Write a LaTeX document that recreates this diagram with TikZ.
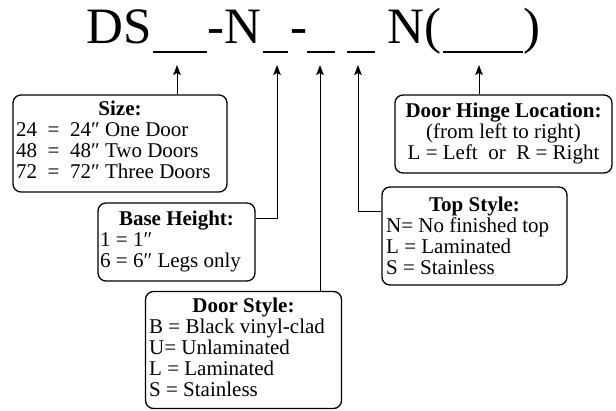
\documentclass[tikz,border=0pt]{standalone}
\usepackage{fontspec}
\setmainfont{Liberation Serif}
\usetikzlibrary{arrows.meta}
\tikzset{
  box/.style={draw, line width=1.3pt, rounded corners=8pt, inner sep=0pt},
  ttl/.style={font=\bfseries\fontsize{21}{21}\selectfont, anchor=base, inner sep=0pt},
  ln/.style={font=\fontsize{21}{21}\selectfont, anchor=base west, inner sep=0pt},
  lnc/.style={font=\fontsize{21}{21}\selectfont, anchor=base, inner sep=0pt},
  big/.style={font=\fontsize{51}{55}\selectfont, anchor=base west, inner sep=0pt},
  uline/.style={line width=2.6pt},
  arr/.style={line width=1pt, -{Stealth[length=10pt,width=7.5pt,inset=2pt]}},
}
\begin{document}
\begin{tikzpicture}[x=1pt,y=-1pt]
\useasboundingbox (0,0) rectangle (616,410);
% title
\node[big] (tDS) at (86,43) {DS};
\node[big] (tN1) at (207,43) {-N};
\node[big] (tdash) at (290,43) {-};
\node[big] (tN2) at (387,43) {N(};
\node[big] (tpar) at (523,43) {)};
\draw[uline] (153,52) -- (207,52);
\draw[uline] (263,52) -- (288,52);
\draw[uline] (307,52) -- (335,52);
\draw[uline] (347,52) -- (375,52);
\draw[uline] (443,52) -- (523,52);
% arrow tips
\coordinate (t1) at (177,65);
\coordinate (t2) at (277,65);
\coordinate (t3) at (320,65);
\coordinate (t4) at (358,65);
\coordinate (t5) at (479,65);
% boxes
\node[box, minimum width=214pt, minimum height=97pt] (size) at (120,143.5) {};
\node[box, minimum width=217pt, minimum height=78pt] (hinge) at (503.5,134) {};
\node[box, minimum width=157pt, minimum height=78pt] (base) at (176.5,242) {};
\node[box, minimum width=185pt, minimum height=98pt] (top) at (474.5,236) {};
\node[box, minimum width=196pt, minimum height=117pt] (door) at (243.5,350) {};
% size text
\node[ttl] (s0) at (120,115) {Size:};
\node[ln] (s1) at (16,136) {24\enspace=\enspace24″ One Door};
\node[ln] (s2) at (16,157) {48\enspace=\enspace48″ Two Doors};
\node[ln] (s3) at (16,178) {72\enspace=\enspace72″ Three Doors};
% hinge text
\node[ttl] (h0) at (503.5,117) {Door Hinge Location:};
\node[lnc] (h1) at (503.5,138) {(from left to right)};
\node[lnc] (h2) at (503.5,159) {L = Left\enspace or\enspace R = Right};
% base text
\node[ttl] (b0) at (176.5,225) {Base Height:};
\node[ln] (b1) at (100,246) {1 = 1″};
\node[ln] (b2) at (100,267) {6 = 6″ Legs only};
% top text
\node[ttl] (p0) at (474.5,211) {Top Style:};
\node[ln] (p1) at (386,232) {N= No finished top};
\node[ln] (p2) at (386,253) {L = Laminated};
\node[ln] (p3) at (386,274) {S = Stainless};
% door text
\node[ttl] (d0) at (243.5,312) {Door Style:};
\node[ln] (d1) at (149,333) {B = Black vinyl-clad};
\node[ln] (d2) at (149,354) {U= Unlaminated};
\node[ln] (d3) at (149,375) {L = Laminated};
\node[ln] (d4) at (149,396) {S = Stainless};
% connectors
\draw[arr] (size.north -| t1) -- (t1);
\draw[arr] (base.east |- 0,218) -| (t2);
\draw[arr] (door.north -| t3) -- (t3);
\draw[arr] (top.west |- 0,211) -| (t4);
\draw[arr] (hinge.north -| t5) -- (t5);
\end{tikzpicture}
\end{document}
